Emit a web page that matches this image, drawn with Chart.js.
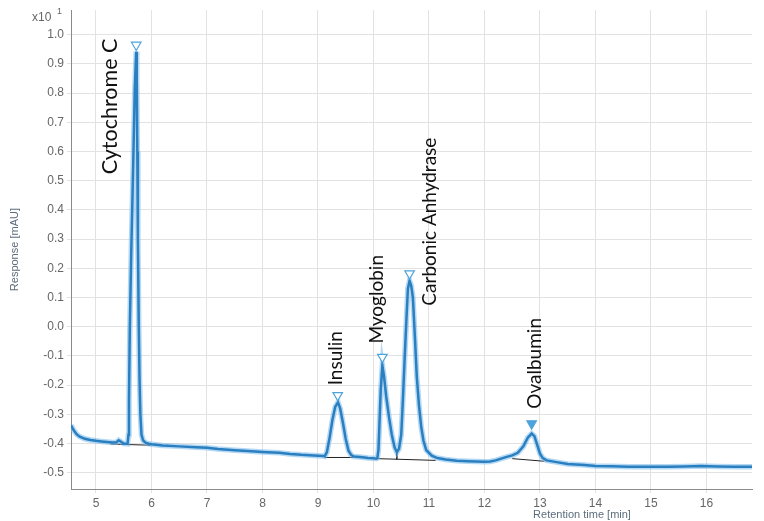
<!DOCTYPE html>
<html>
<head>
<meta charset="utf-8">
<script src="https://cdn.jsdelivr.net/npm/chart.js@4.4.1/dist/chart.umd.min.js"></script>
<style>
html,body{margin:0;padding:0;background:#fff;}
#wrap{position:relative;width:764px;height:521px;}
</style>
</head>
<body>
<div id="wrap"><canvas id="c"></canvas></div>
<script>
// ---- data ----
const times = [4.55,4.6,4.65,4.7,4.8,4.9,5.0,5.1,5.2,5.3,5.37,5.41,5.45,5.5,5.57,
  5.585,5.595,5.61,5.635,5.67,5.70,5.725,5.735,5.745,5.755,5.77,5.785,5.80,5.82,5.85,5.90,5.95,
  6.0,6.2,6.5,6.8,7.0,7.2,7.5,7.8,8.0,8.3,8.5,8.7,9.0,9.1,
  9.12,9.16,9.21,9.26,9.31,9.36,9.40,9.45,9.50,9.55,9.60,9.65,9.8,9.9,10.0,10.05,
  10.07,10.09,10.11,10.13,10.16,10.19,10.23,10.28,10.33,10.38,10.42,
  10.46,10.50,10.53,10.56,10.59,10.62,10.65,10.68,10.71,10.75,10.78,10.82,10.86,10.90,10.95,
  11.05,11.15,11.3,11.5,11.7,12.0,12.1,12.2,12.3,12.4,12.5,12.6,12.7,12.78,12.85,12.9,12.95,
  13.0,13.05,13.12,13.3,13.5,13.8,14.0,14.3,14.6,15.0,15.3,15.6,15.9,16.2,16.5,16.82];
const response = [-0.338,-0.355,-0.368,-0.376,-0.384,-0.388,-0.391,-0.393,-0.395,-0.397,-0.396,-0.389,-0.394,-0.400,-0.401,
  -0.37,-0.25,0.0,0.25,0.55,0.82,0.942,0.85,0.60,0.30,0.02,-0.18,-0.30,-0.37,-0.39,-0.398,-0.401,
  -0.403,-0.407,-0.410,-0.413,-0.415,-0.419,-0.423,-0.427,-0.429,-0.432,-0.436,-0.439,-0.442,-0.443,
  -0.444,-0.43,-0.38,-0.32,-0.275,-0.259,-0.28,-0.33,-0.385,-0.425,-0.440,-0.445,-0.447,-0.450,-0.451,-0.452,
  -0.450,-0.42,-0.32,-0.22,-0.133,-0.17,-0.24,-0.31,-0.37,-0.413,-0.430,
  -0.418,-0.37,-0.25,-0.116,0.01,0.13,0.157,0.14,0.10,-0.05,-0.17,-0.27,-0.343,-0.39,-0.423,
  -0.442,-0.450,-0.455,-0.459,-0.461,-0.463,-0.462,-0.458,-0.452,-0.446,-0.441,-0.432,-0.41,-0.38,-0.366,-0.375,-0.405,
  -0.435,-0.450,-0.458,-0.464,-0.470,-0.474,-0.477,-0.478,-0.480,-0.480,-0.480,-0.479,-0.477,-0.479,-0.480,-0.480];

const peakNames = ["Cytochrome C","Insulin","Myoglobin","Carbonic Anhydrase","Ovalbumin"];
const peakTimes = [5.725,9.355,10.16,10.65,12.85];
const peakMarkY = [0.965,-0.235,-0.104,0.182,-0.332];
const peakFilled = [false,false,false,false,true];

// integration baselines (start time, start value, end time, end value)
const baseStartT = [5.26,9.12,10.06,12.5];
const baseStartY = [-0.402,-0.448,-0.452,-0.452];
const baseEndT   = [5.98,9.63,11.12,13.08];
const baseEndY   = [-0.406,-0.448,-0.458,-0.461];
const dropT = [10.42,10.42];
const dropY = [-0.430,-0.454];

const xTicks = [5,6,7,8,9,10,11,12,13,14,15,16];
const yTicks = [-0.5,-0.4,-0.3,-0.2,-0.1,0.0,0.1,0.2,0.3,0.4,0.5,0.6,0.7,0.8,0.9,1.0];

// label anchors (data coordinates of the bottom of each rotated name)
const labelAnchorT = [5.257,9.32,10.06,11.01,12.91];
const labelAnchorY = [0.522,-0.201,-0.058,0.072,-0.281];
const labelFontPx = [21.5,19,19,19,19];

// ---- build chart ----
const curve = times.map((t,i)=>({x:t,y:response[i]}));
const baseDatasets = baseStartT.map((t,i)=>({
  type:'line', data:[{x:t,y:baseStartY[i]},{x:baseEndT[i],y:baseEndY[i]}],
  borderColor:'#222', borderWidth:1, pointRadius:0, order:5
}));
baseDatasets.push({type:'line', data:dropT.map((t,i)=>({x:t,y:dropY[i]})),
  borderColor:'#222', borderWidth:1, pointRadius:0, order:5});

const markerColor = '#4da3dc';

const labelPlugin = {
  id:'labels',
  afterDatasetsDraw(chart){
    const ctx = chart.ctx, xs = chart.scales.x, ys = chart.scales.y;
    ctx.save();
    ctx.fillStyle = '#111';
    ctx.textAlign = 'left';
    ctx.textBaseline = 'middle';
    peakNames.forEach((n,i)=>{
      const px = xs.getPixelForValue(labelAnchorT[i]);
      const py = ys.getPixelForValue(labelAnchorY[i]);
      ctx.save();
      ctx.font = labelFontPx[i] + 'px Lato, "Open Sans", sans-serif';
      ctx.translate(px,py);
      ctx.rotate(-Math.PI/2);
      ctx.fillText(n,0,0);
      ctx.restore();
    });
    ctx.restore();
  },
  afterDraw(chart){
    const ctx = chart.ctx, ca = chart.chartArea;
    ctx.save();
    ctx.fillStyle = '#5d6d7c';
    ctx.font = '11px "Liberation Sans", Arial, sans-serif';
    ctx.textAlign = 'center';
    ctx.textBaseline = 'middle';
    ctx.save();
    ctx.translate(15,(ca.top+ca.bottom)/2);
    ctx.rotate(-Math.PI/2);
    ctx.fillText('Response [mAU]',0,0);
    ctx.restore();
    ctx.fillText('Retention time [min]',582,515);
    ctx.fillStyle = '#666';
    ctx.font = '12px "Liberation Sans", Arial, sans-serif';
    ctx.textAlign = 'left';
    ctx.fillText('x10',32,18);
    ctx.font = '9px "Liberation Sans", Arial, sans-serif';
    ctx.fillText('1',57,12);
    ctx.restore();
  }
};

new Chart(document.getElementById('c'), {
  type:'line',
  data:{
    datasets:[
      {type:'scatter', data:peakTimes.map((t,i)=>({x:t,y:peakMarkY[i]})),
        pointStyle:'triangle', rotation:180, pointRadius:5.5,
        pointBorderWidth:1.2, pointBorderColor:markerColor,
        pointBackgroundColor:peakFilled.map(f=>f?markerColor:'#ffffff'),
        showLine:false, order:0},
      {data:curve, borderColor:'#2a7fc0', borderWidth:2.5, pointRadius:0, tension:0, order:1},
      {data:curve, borderColor:'rgba(120,185,235,0.55)', borderWidth:5.5, pointRadius:0, tension:0, order:2},
      ...baseDatasets
    ]
  },
  options:{
    responsive:true, maintainAspectRatio:false, animation:false,
    layout:{padding:{top:8,right:12,left:0,bottom:0}},
    plugins:{legend:{display:false}, tooltip:{enabled:false}},
    scales:{
      x:{type:'linear', min:4.55, max:16.82,
        afterBuildTicks(s){ s.ticks = xTicks.map(v=>({value:v})); },
        afterFit(s){ s.height = 32; },
        grid:{color:'#e2e2e2', tickLength:4, tickColor:'#e2e2e2'},
        border:{color:'#8a8a8a', width:1},
        ticks:{color:'#666', padding:3, font:{family:'"Liberation Sans", Arial, sans-serif', size:12},
          maxRotation:0, autoSkip:false, callback:v=>String(v)}
      },
      y:{type:'linear', min:-0.556, max:1.084,
        afterBuildTicks(s){ s.ticks = yTicks.map(v=>({value:v})); },
        afterFit(s){ s.width = 71; },
        grid:{color:'#e2e2e2', tickLength:4, tickColor:'#e2e2e2'},
        border:{color:'#8a8a8a', width:1},
        ticks:{color:'#666', padding:3, font:{family:'"Liberation Sans", Arial, sans-serif', size:12},
          autoSkip:false, callback:v=>(Math.abs(v)<1e-9?0:v).toFixed(1)}
      }
    }
  },
  plugins:[labelPlugin]
});
</script>
</body>
</html>
